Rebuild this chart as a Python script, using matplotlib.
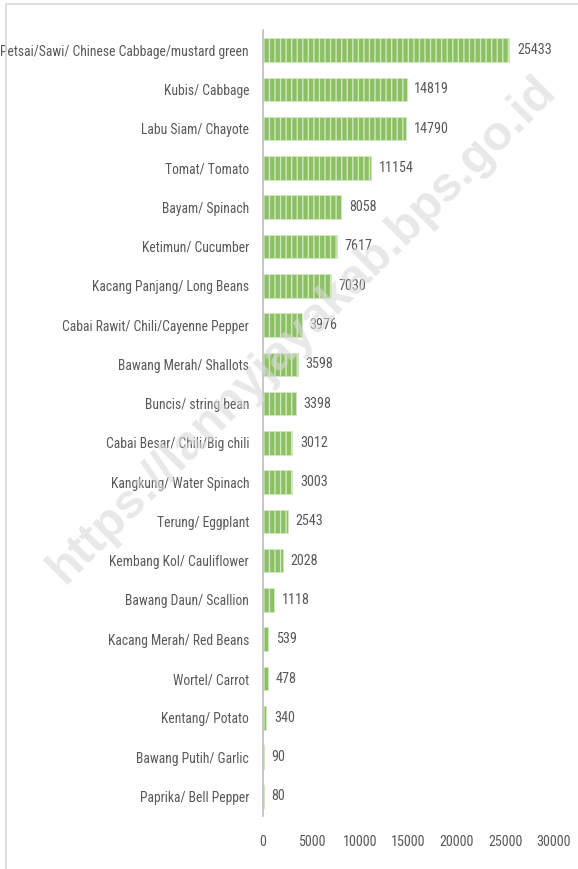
import matplotlib
matplotlib.use("Agg")
import matplotlib.pyplot as plt
from matplotlib.patches import Rectangle

plt.rcParams['font.family'] = ['Roboto Condensed', 'DejaVu Sans']

# 数据
categories = [
    "Petsai/Sawi/ Chinese Cabbage/mustard green",
    "Kubis/ Cabbage",
    "Labu Siam/ Chayote",
    "Tomat/ Tomato",
    "Bayam/ Spinach",
    "Ketimun/ Cucumber",
    "Kacang Panjang/ Long Beans",
    "Cabai Rawit/ Chili/Cayenne Pepper",
    "Bawang Merah/ Shallots",
    "Buncis/ string bean",
    "Cabai Besar/ Chili/Big chili",
    "Kangkung/ Water Spinach",
    "Terung/ Eggplant",
    "Kembang Kol/ Cauliflower",
    "Bawang Daun/ Scallion",
    "Kacang Merah/ Red Beans",
    "Wortel/ Carrot",
    "Kentang/ Potato",
    "Bawang Putih/ Garlic",
    "Paprika/ Bell Pepper",
]
values = [25433, 14819, 14790, 11154, 8058, 7617, 7030, 3976, 3598, 3398,
          3012, 3003, 2543, 2028, 1118, 539, 478, 340, 90, 80]
xticks = [0, 5000, 10000, 15000, 20000, 25000, 30000]

txt = '#595959'
fs = 9.8

fig = plt.figure(figsize=(5.78, 8.69), dpi=100)
ax = fig.add_axes([0.455, 0.061, 0.503, 0.904])

y = list(range(len(categories)))[::-1]
ax.barh(y, values, height=0.6, color='#8CC063', edgecolor='#D2E8C2',
        linewidth=0.6, hatch='|||')

for yi, v in zip(y, values):
    ax.text(v + 800, yi, str(v), va='center', ha='left', fontsize=fs + 0.4,
            color=txt)

ax.set_yticks(y)
ax.set_yticklabels(categories, fontsize=fs, color=txt)
ax.set_ylim(-0.5, len(categories) - 0.5)
ax.set_xlim(0, 30000)
ax.set_xticks(xticks)
ax.set_xticklabels([str(t) for t in xticks], fontsize=fs + 0.4, color=txt)
ax.tick_params(axis='both', length=0)
ax.tick_params(axis='x', pad=14)
ax.tick_params(axis='y', pad=10)

for s in ['top', 'right', 'bottom']:
    ax.spines[s].set_visible(False)
ax.spines['left'].set_color('#BFBFBF')
ax.spines['left'].set_linewidth(1.2)

# 水印
fig.text(0.523, 0.62, "https://lannyjayakab.bps.go.id", fontsize=35,
         fontweight='bold', color='#D9D9D9', alpha=0.6, rotation=45,
         ha='center', va='center', family=['Liberation Sans', 'DejaVu Sans'])

# 外框
fig.patches.append(Rectangle((6 / 578, -0.1), 1.0, 1 - 4 / 869 + 0.1,
                             transform=fig.transFigure, fill=False,
                             edgecolor='#D9D9D9', linewidth=1.2))

fig.savefig('out.png', dpi=100)
